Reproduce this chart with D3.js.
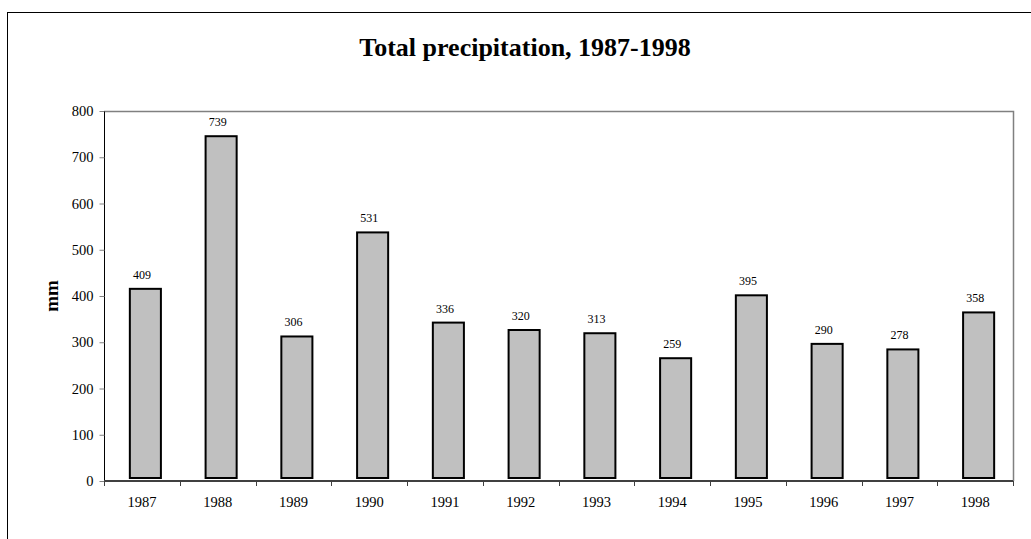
<!DOCTYPE html>
<html><head><meta charset="utf-8">
<script src="https://cdn.jsdelivr.net/npm/d3@7"></script>
<style>body{margin:0;background:#fff}</style>
</head><body>
<script>
const years = ["1987","1988","1989","1990","1991","1992","1993","1994","1995","1996","1997","1998"];
const precipitation = [409,739,306,531,336,320,313,259,395,290,278,358];
const yTicks = [0,100,200,300,400,500,600,700,800];
const titleText = "Total precipitation, 1987-1998";
const yLabel = "mm";

const W = 1031, H = 539;
const FONT = "'Liberation Serif','Times New Roman',serif";
const svg = d3.select("body").append("svg").attr("width", W).attr("height", H)
  .style("font-family", FONT);

svg.append("rect").attr("width", W).attr("height", H).attr("fill", "#fff");
// outer chart border (only left/top visible in frame)
svg.append("rect").attr("x", 7.5).attr("y", 12.5).attr("width", 1040).attr("height", 560)
  .attr("fill", "none").attr("stroke", "#000").attr("stroke-width", 1);

const plot = {left: 104, top: 111, right: 1013, bottom: 481};
const x = d3.scaleBand().domain(years).range([plot.left, plot.right]).paddingInner(0.59).paddingOuter(0.295);
const xc = d3.scaleBand().domain(years).range([plot.left, plot.right]);
const y = d3.scaleLinear().domain([0, 800]).range([plot.bottom, plot.top]);

// plot area frame top/right
svg.append("path")
  .attr("d", `M${plot.left},${plot.top + 0.5}H${plot.right + 0.5}V${plot.bottom}`)
  .attr("fill", "none").attr("stroke", "#808080").attr("stroke-width", 1.5);

// bars (slightly offset as in source)
const dx = 3.5, dy = -3;
svg.append("g").selectAll("rect").data(precipitation).join("rect")
  .attr("x", (d, i) => x(years[i]) + dx)
  .attr("y", d => y(d) + dy)
  .attr("width", x.bandwidth())
  .attr("height", d => y(0) - y(d))
  .attr("fill", "#c0c0c0").attr("stroke", "#000").attr("stroke-width", 2);

// value labels
svg.append("g").selectAll("text").data(precipitation).join("text")
  .attr("x", (d, i) => xc(years[i]) + xc.bandwidth() / 2)
  .attr("y", d => y(d) - 13)
  .attr("text-anchor", "middle").attr("font-size", 12).attr("fill", "#000")
  .text(d => d);

// y axis
const yAxis = d3.axisLeft(y).tickValues(yTicks).tickSize(5).tickPadding(6).tickFormat(d3.format("d"));
const gy = svg.append("g").attr("transform", `translate(${plot.left + 0.5},0)`).call(yAxis);
gy.select(".domain").attr("stroke", "#000").attr("d", `M0,${plot.top}V${plot.bottom}`);
gy.selectAll(".tick line").attr("stroke", "#808080");
gy.selectAll("text").attr("font-size", 14.5).attr("font-family", FONT).attr("fill", "#000");

// x axis
const xAxis = d3.axisBottom(xc).tickSize(0).tickPadding(16);
const gx = svg.append("g").attr("transform", `translate(0,${plot.bottom})`).call(xAxis);
gx.select(".domain").attr("stroke", "#404040").attr("stroke-width", 2).attr("d", `M${plot.left},0H${plot.right}`);
gx.selectAll("text").attr("font-size", 14.5).attr("font-family", FONT).attr("fill", "#000");
// category boundary ticks
const bounds = years.map(d => xc(d)).concat([plot.right]);
svg.append("g").selectAll("line").data(bounds).join("line")
  .attr("x1", d => Math.round(d) + 0.5).attr("x2", d => Math.round(d) + 0.5)
  .attr("y1", plot.bottom).attr("y2", plot.bottom + 5)
  .attr("stroke", "#404040").attr("stroke-width", 1);

// title
svg.append("text").attr("x", 525).attr("y", 56).attr("text-anchor", "middle")
  .attr("font-size", 26).attr("font-weight", "bold").text(titleText);

// y label
svg.append("text").attr("transform", "translate(58,296) rotate(-90)")
  .attr("text-anchor", "middle").attr("font-size", 19).attr("font-weight", "bold").text(yLabel);
</script>
</body></html>
